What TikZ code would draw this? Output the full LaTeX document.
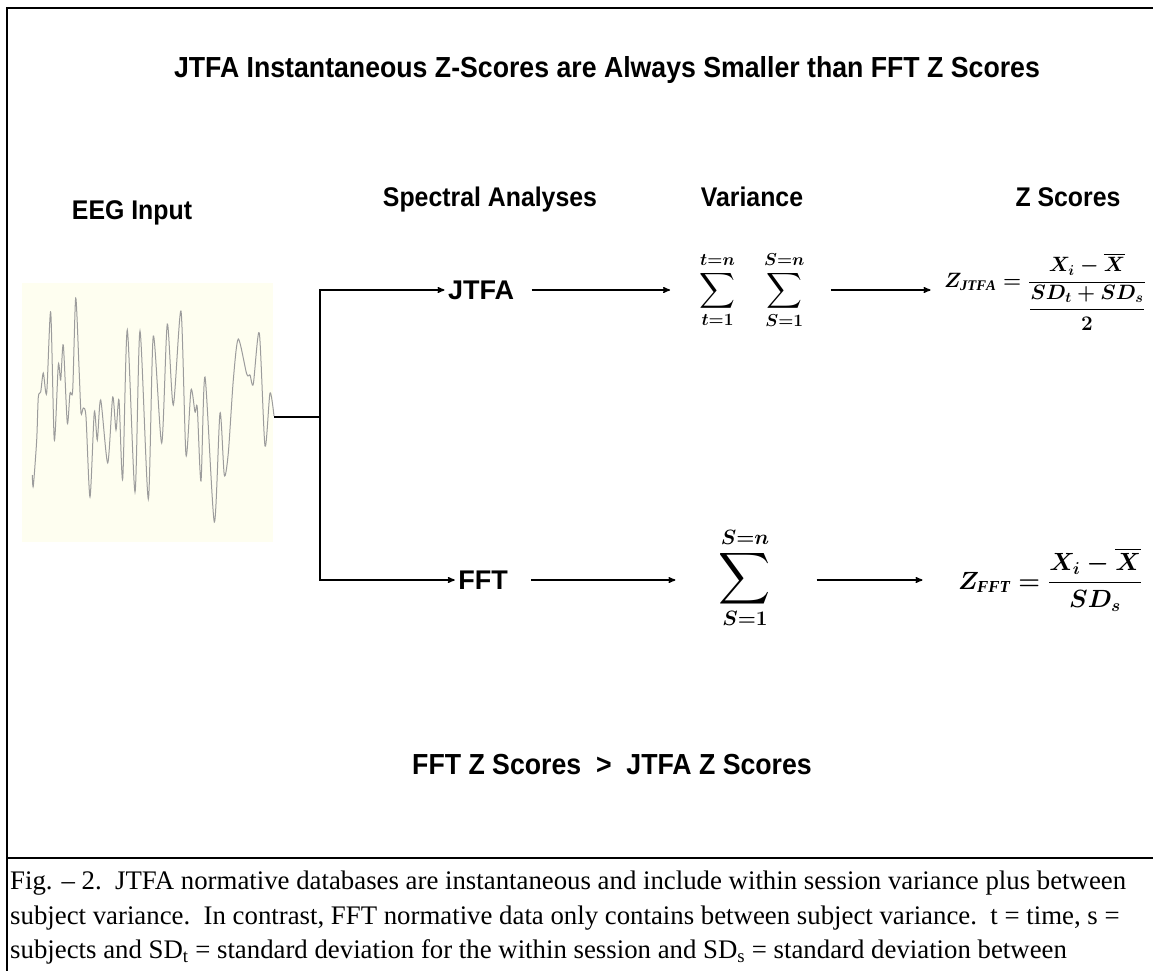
\documentclass[tikz,border=0pt]{standalone}
\usepackage{amsmath}
\usepackage{fontspec}
\setmainfont{Liberation Serif}
\newfontfamily\headfont[FakeStretch=0.92]{Liberation Sans}
\newfontfamily\blockfont{Liberation Sans}
\usetikzlibrary{positioning, arrows}
\definecolor{paper}{HTML}{FEFEF0}
\definecolor{trace}{HTML}{9C9C9C}
\newcommand{\bigsum}{\mathop{\scalebox{1.45}{$\displaystyle\sum$}}\limits}
\tikzset{
x=1pt, y=-1pt, % one unit per pixel, y runs downwards
>=stealth', % small filled arrow heads
title/.style={font=\headfont\bfseries\fontsize{29}{33}\selectfont}, % top line and result line
head/.style={font=\headfont\bfseries\fontsize{27}{31}\selectfont}, % column headings
block/.style={font=\blockfont\bfseries\fontsize{27}{31}\selectfont}, % JTFA / FFT
formula/.style={font=\fontsize{21}{25}\selectfont\boldmath}, % bold math
sums/.style={font=\fontsize{24}{28}\selectfont\boldmath}, % the sigma signs
link/.style={->, line width=1.4pt}, % connectors
}

\begin{document}
\begin{tikzpicture}
\useasboundingbox (0,0) rectangle (1153,970);
\draw[line width=2.2pt] (7,8) rectangle (1175,1000);
\draw[line width=2.2pt] (7,858) -- (1175,858);

\node[title] (ttl) at (607,70) {JTFA Instantaneous Z-Scores are Always Smaller than FFT Z Scores};

\node[head] (eegin) at (132,213) {EEG Input};
\node[head] (spec) at (490,200) {Spectral Analyses};
\node[head] (var) at (752,197) {Variance};
\node[head] (zsc) at (1068,197) {Z Scores};

% the EEG trace
\node[fill=paper, minimum width=251pt, minimum height=259pt, inner sep=0pt] (eeg) at (147.5,412.5) {};
\draw[trace, line width=1pt] plot[smooth, tension=0.45] coordinates {
(32.3,475) (33.3,486) (36.7,440) (38.3,397) (40.7,392) (43.3,373) (46.7,393) (50.7,312)
(54.3,440) (58.3,365) (60.7,380) (63.3,345) (67.3,423) (70,393) (72.7,390) (75.7,298)
(79,367) (81,413) (83.3,408) (86,417) (90,497) (94.3,412) (97.3,440) (100.7,400) (107.7,463)
(112.7,397) (116,430) (119,400) (122.7,479) (127.3,330) (135,492) (140,331) (148.3,499)
(153.3,336) (161.7,443) (167.3,324) (173.3,405) (181,311) (186,455) (191,390) (195,412)
(197.3,408) (201,481) (205,377) (214.3,522) (220,413) (224.3,475) (228.3,453) (233.3,380)
(238.3,339) (246.7,374) (250,375) (253.3,384) (259.3,333) (265,446) (270,393) (274,416)};
\coordinate (waveend) at (274,417);
\coordinate (split) at (320,417);

\node[block] (jtfa) at (481,290) {JTFA};
\node[block] (fft) at (483,580) {FFT};

\node[sums] (sumj) at (752,290) {$\displaystyle\sum_{t=1}^{t=n}\;\;\;\sum_{S=1}^{S=n}$};
\node[sums, font=\fontsize{30}{34}\selectfont\boldmath] (sumf) at (745,578) {$\bigsum_{S=1}^{S=n}$};

\node[formula] (zj) at (1045,292) {$Z_{\mathit{JTFA}}=\dfrac{X_i-\overline{X}}{\dfrac{SD_t+SD_s}{2}}$};
\node[formula, font=\fontsize{24}{28}\selectfont\boldmath] (zf) at (1050,580) {$Z_{\mathit{FFT}}=\dfrac{X_i-\overline{X}}{SD_s}$};

\draw[line width=1.4pt] (waveend) -- (split);
\draw[link] (split) |- (jtfa);
\draw[link] (split) |- (fft);
\draw[link, shorten >=26pt, shorten <=14pt] (jtfa) -- (sumj);
\draw[link, shorten >=10pt, shorten <=23pt] (sumj) -- (zj.west |- sumj);
\draw[link, shorten >=40pt, shorten <=20pt] (fft) -- (sumf.west |- fft);
\draw[link, shorten >=32pt, shorten <=42pt] (sumf.east |- zf) -- (zf);

\node[title] (result) at (612,765) {FFT Z Scores \ \textgreater\ \ JTFA Z Scores};

\node[font=\fontsize{26.8}{30.5}\selectfont, anchor=north west, inner sep=0pt, align=left] (capt) at (10,871) {%
Fig. -- 2.\ \ JTFA normative databases are instantaneous and include within session variance plus between\\[4pt]
subject variance.\ \ In contrast, FFT normative data only contains between subject variance.\ \ t = time, s =\\[4pt]
subjects and SD\textsubscript{t} = standard deviation for the within session and SD\textsubscript{s} = standard deviation between\\[4pt]
subjects.\ \ Thus FFT Z scores are larger than JTFA Z scores and a ratio of 2:1 is not uncommon};
\end{tikzpicture}
\end{document}
